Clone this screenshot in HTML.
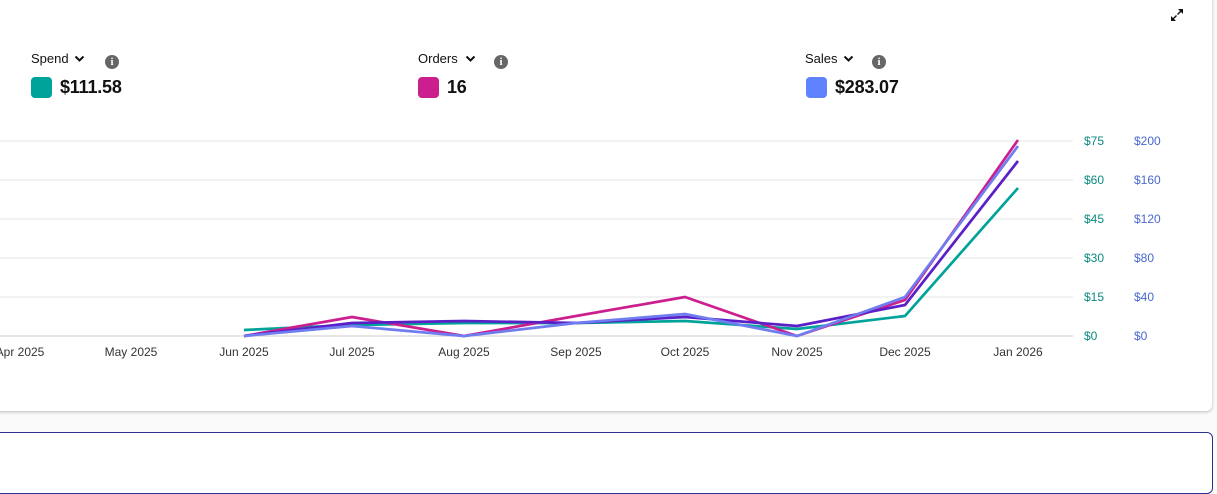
<!DOCTYPE html>
<html><head><meta charset="utf-8"><style>
body{margin:0;width:1217px;height:457px;background:#fafafa;font-family:"Liberation Sans",sans-serif;overflow:hidden;position:relative}
.card{position:absolute;left:-10px;top:-10px;width:1222px;height:421px;background:#fff;border-radius:6px;box-shadow:0 1px 3px rgba(0,0,0,.25)}
.card2{position:absolute;left:-10px;top:432px;width:1221px;height:60px;background:#fff;border:1.5px solid #2b2f8f;border-radius:6px}
.m{position:absolute;font-size:13px;color:#111}
.v{position:absolute;font-size:18px;font-weight:bold;color:#111;letter-spacing:-0.2px}
.sw{position:absolute;width:21px;height:21px;border-radius:4px}
.i{position:absolute;width:14px;height:14px;border-radius:50%;background:#666;color:#fff;font-size:11px;font-weight:bold;text-align:center;line-height:14px;font-family:"Liberation Serif",serif}
.ch{position:absolute}
</style></head><body>
<div class="card"></div>
<div class="card2"></div>
<svg style="position:absolute;left:1169px;top:7px" width="16" height="16" viewBox="0 0 16 16"><path d="M9 2h5v5l-2-2-3 3-1-1 3-3zM7 14H2V9l2 2 3-3 1 1-3 3z" fill="#111"/></svg>
<div class="m" style="left:31px;top:51px">Spend</div><svg class="ch" style="left:74px;top:55px" width="11" height="8"><path d="M1.5 1.5l4 4 4-4" stroke="#111" stroke-width="2" fill="none"/></svg><div class="i" style="left:105px;top:55px">i</div>
<div class="sw" style="left:31px;top:77px;background:#00a39a"></div><div class="v" style="left:60px;top:77px">$111.58</div>
<div class="m" style="left:418px;top:51px">Orders</div><svg class="ch" style="left:465px;top:55px" width="11" height="8"><path d="M1.5 1.5l4 4 4-4" stroke="#111" stroke-width="2" fill="none"/></svg><div class="i" style="left:494px;top:55px">i</div>
<div class="sw" style="left:418px;top:77px;background:#cc1f8f"></div><div class="v" style="left:447px;top:77px">16</div>
<div class="m" style="left:805px;top:51px">Sales</div><svg class="ch" style="left:843px;top:55px" width="11" height="8"><path d="M1.5 1.5l4 4 4-4" stroke="#111" stroke-width="2" fill="none"/></svg><div class="i" style="left:872px;top:55px">i</div>
<div class="sw" style="left:806px;top:77px;background:#5f82ff"></div><div class="v" style="left:835px;top:77px">$283.07</div>
<svg style="position:absolute;left:0;top:0" width="1217" height="457">
<g stroke="#e6e6e6" stroke-width="1">
<line x1="0" x2="1073" y1="141" y2="141"/><line x1="0" x2="1073" y1="180" y2="180"/><line x1="0" x2="1073" y1="219" y2="219"/><line x1="0" x2="1073" y1="258" y2="258"/><line x1="0" x2="1073" y1="297" y2="297"/><line x1="0" x2="1073" y1="336" y2="336" stroke="#ccc"/></g>
<g font-size="12" fill="#0a8a80"><text x="1084" y="145">$75</text><text x="1084" y="184">$60</text><text x="1084" y="223">$45</text><text x="1084" y="262">$30</text><text x="1084" y="301">$15</text><text x="1084" y="340">$0</text></g>
<g font-size="12" fill="#4a68d0"><text x="1134" y="145">$200</text><text x="1134" y="184">$160</text><text x="1134" y="223">$120</text><text x="1134" y="262">$80</text><text x="1134" y="301">$40</text><text x="1134" y="340">$0</text></g>
<g font-size="12" fill="#333" text-anchor="middle"><text x="20" y="356">Apr 2025</text><text x="131" y="356">May 2025</text><text x="244" y="356">Jun 2025</text><text x="352" y="356">Jul 2025</text><text x="464" y="356">Aug 2025</text><text x="576" y="356">Sep 2025</text><text x="685" y="356">Oct 2025</text><text x="797" y="356">Nov 2025</text><text x="905" y="356">Dec 2025</text><text x="1018" y="356">Jan 2026</text></g>
<g fill="none" stroke-width="2.7" stroke-linejoin="round">
<polyline stroke="#00a39a" points="244,330 352,325 464,323 576,323 685,321 797,329 905,316 1018,188"/>
<polyline stroke="#cc1f8f" points="244,336 352,317 464,336 576,316 685,297 797,336 905,300 1018,140"/>
<polyline stroke="#5b1fc8" points="244,336 352,323 464,321 576,323 685,317 797,326 905,305 1018,161"/>
<polyline stroke="#6f7df0" points="244,336 352,326 464,336 576,323 685,314 797,336 905,297 1018,146"/>
</g></svg>
</body></html>
